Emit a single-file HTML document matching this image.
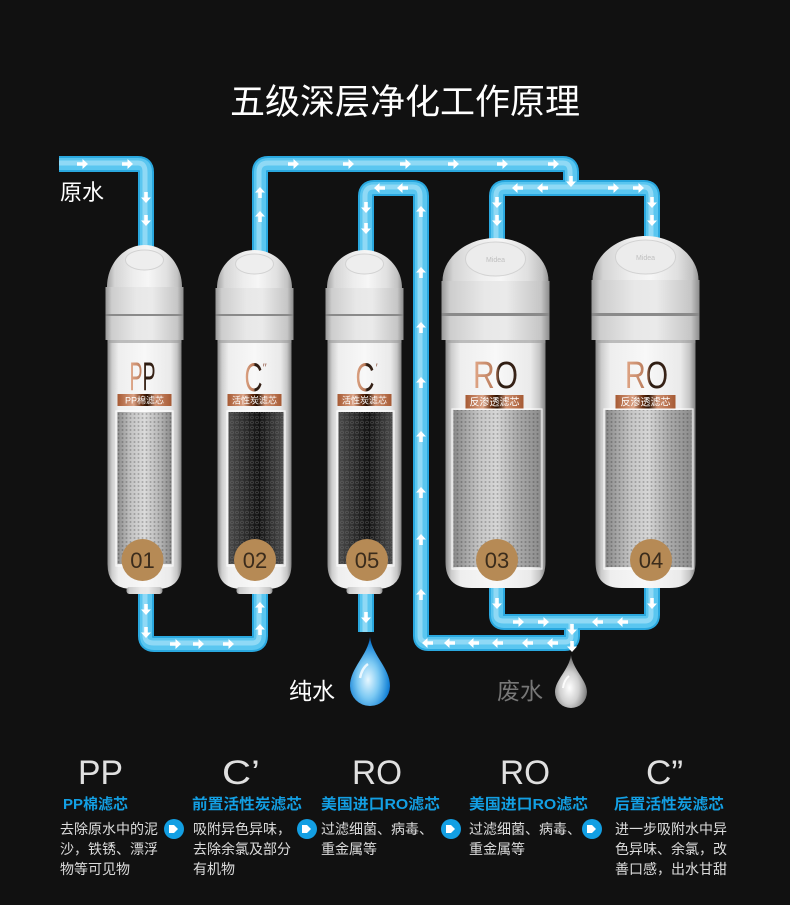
<!DOCTYPE html>
<html><head><meta charset="utf-8"><style>
html,body{margin:0;padding:0;background:#111;}
svg{display:block;}
text{font-family:"Liberation Sans","Noto Sans CJK SC",sans-serif;}
</style></head><body>
<svg width="790" height="905" viewBox="0 0 790 905" xmlns="http://www.w3.org/2000/svg">
<defs>
<linearGradient id="gCap" x1="0" x2="1" y1="0" y2="0">
<stop offset="0" stop-color="#a0a0a0"/><stop offset=".1" stop-color="#d4d4d4"/><stop offset=".35" stop-color="#ededed"/><stop offset=".55" stop-color="#f6f6f6"/><stop offset=".8" stop-color="#e0e0e0"/><stop offset=".94" stop-color="#c2c2c2"/><stop offset="1" stop-color="#959595"/>
</linearGradient>
<linearGradient id="gBand" x1="0" x2="1" y1="0" y2="0">
<stop offset="0" stop-color="#989898"/><stop offset=".08" stop-color="#cdcdcd"/><stop offset=".4" stop-color="#e8e8e8"/><stop offset=".6" stop-color="#eaeaea"/><stop offset=".92" stop-color="#c6c6c6"/><stop offset="1" stop-color="#8c8c8c"/>
</linearGradient>
<linearGradient id="gBody" x1="0" x2="1" y1="0" y2="0">
<stop offset="0" stop-color="#8a8a8a"/><stop offset=".06" stop-color="#cdcdcd"/><stop offset=".15" stop-color="#eeeeee"/><stop offset=".5" stop-color="#f8f8f8"/><stop offset=".85" stop-color="#eaeaea"/><stop offset=".94" stop-color="#c6c6c6"/><stop offset="1" stop-color="#828282"/>
</linearGradient>
<linearGradient id="gElemL" x1="0" x2="1" y1="0" y2="0">
<stop offset="0" stop-color="#8e8e8e"/><stop offset=".25" stop-color="#c4c4c4"/><stop offset=".5" stop-color="#dadada"/><stop offset=".8" stop-color="#b4b4b4"/><stop offset="1" stop-color="#8a8a8a"/>
</linearGradient>
<linearGradient id="gElemD" x1="0" x2="1" y1="0" y2="0">
<stop offset="0" stop-color="#4a4a4a"/><stop offset=".3" stop-color="#2c2c2c"/><stop offset=".55" stop-color="#111"/><stop offset=".8" stop-color="#333"/><stop offset="1" stop-color="#4a4a4a"/>
</linearGradient>
<linearGradient id="gElemM" x1="0" x2="1" y1="0" y2="0">
<stop offset="0" stop-color="#8a8a8a"/><stop offset=".3" stop-color="#c6c6c6"/><stop offset=".5" stop-color="#d6d6d6"/><stop offset=".72" stop-color="#adadad"/><stop offset="1" stop-color="#8c8c8c"/>
</linearGradient>
<linearGradient id="gCopper" x1="0" x2="1" y1="0" y2="0">
<stop offset="0" stop-color="#a65a34"/><stop offset=".3" stop-color="#dba285"/><stop offset=".45" stop-color="#6a3012"/><stop offset=".55" stop-color="#2a1000"/><stop offset=".7" stop-color="#cd8e6e"/><stop offset="1" stop-color="#a65a34"/>
</linearGradient>
<linearGradient id="gTxt" x1="0" x2="1" y1="0" y2="0">
<stop offset="0" stop-color="#e2a888"/><stop offset=".5" stop-color="#b87a5a"/><stop offset=".6" stop-color="#2a1a10"/><stop offset="1" stop-color="#3a2418"/>
</linearGradient>
<radialGradient id="gDrop" cx=".45" cy=".62" r=".6">
<stop offset="0" stop-color="#e6f7ff"/><stop offset=".45" stop-color="#7cc9f3"/><stop offset=".85" stop-color="#1a86d8"/><stop offset="1" stop-color="#0a5db8"/>
</radialGradient>
<radialGradient id="gDropG" cx=".45" cy=".62" r=".6">
<stop offset="0" stop-color="#ffffff"/><stop offset=".5" stop-color="#d0d0d0"/><stop offset=".85" stop-color="#8a8a8a"/><stop offset="1" stop-color="#555"/>
</radialGradient>
<pattern id="meshA" width="4" height="4" patternUnits="userSpaceOnUse"><circle cx="2" cy="2" r="1" fill="#000" opacity=".22"/></pattern>
<pattern id="meshB" width="5" height="5" patternUnits="userSpaceOnUse"><circle cx="2.5" cy="2.5" r="1.4" fill="none" stroke="#777" stroke-width=".6" opacity=".6"/></pattern>
<path id="ar" d="M-5,-1.8 H0.5 V-5 L6,0 L0.5,5 V1.8 H-5 Z" fill="#fff"/>
</defs>

<rect width="790" height="905" fill="#111"/>

<text x="230" y="114" font-size="35" fill="#fff" textLength="350" lengthAdjust="spacingAndGlyphs">五级深层净化工作原理</text>
<text x="60" y="200" font-size="22" fill="#fff">原水</text>

<!-- pipes -->
<g fill="none" stroke-linecap="butt">
<g stroke="#2aa8df" stroke-width="16">
<path d="M59,164 H138 Q146,164 146,172 V250"/>
<path d="M260,255 V172 Q260,164 268,164 H563 Q571,164 571,172 V188"/>
<path d="M497,242 V196 Q497,188 505,188 H644 Q652,188 652,196 V240"/>
<path d="M366,255 V196 Q366,188 374,188 H413 Q421,188 421,196 V636 Q421,643 428,643 H565 Q572,643 572,636 V618"/>
<path d="M497,585 V615 Q497,622 504,622 H645 Q652,622 652,615 V585"/>
<path d="M146,590 V636 Q146,644 154,644 H252 Q260,644 260,636 V590"/>
<path d="M366,590 V632"/>
</g>
<g stroke="#5ac6f0" stroke-width="12">
<path d="M59,164 H138 Q146,164 146,172 V250"/>
<path d="M260,255 V172 Q260,164 268,164 H563 Q571,164 571,172 V188"/>
<path d="M497,242 V196 Q497,188 505,188 H644 Q652,188 652,196 V240"/>
<path d="M366,255 V196 Q366,188 374,188 H413 Q421,188 421,196 V636 Q421,643 428,643 H565 Q572,643 572,636 V618"/>
<path d="M497,585 V615 Q497,622 504,622 H645 Q652,622 652,615 V585"/>
<path d="M146,590 V636 Q146,644 154,644 H252 Q260,644 260,636 V590"/>
<path d="M366,590 V632"/>
</g>
<g stroke="#c4ecfb" stroke-width="5" opacity=".5">
<path d="M59,163 H138 Q145,163 145,172 V250"/>
<path d="M259,255 V172 Q259,163 268,163 H563 Q570,163 570,172 V186"/>
<path d="M496,242 V196 Q496,187 505,187 H644 Q651,187 651,196 V240"/>
<path d="M365,255 V196 Q365,187 374,187 H413 Q420,187 420,196 V636 Q420,642 428,642 H565 Q571,642 571,636 V620"/>
<path d="M496,585 V615 Q496,621 504,621 H645 Q651,621 651,615 V585"/>
<path d="M145,590 V636 Q145,643 154,643 H252 Q259,643 259,636 V590"/>
<path d="M365,590 V632"/>
</g>
</g>

<!-- arrows -->
<g>
<use href="#ar" transform="translate(82,164)"/><use href="#ar" transform="translate(127,164)"/>
<use href="#ar" transform="translate(146,197) rotate(90)"/><use href="#ar" transform="translate(146,220) rotate(90)"/>
<use href="#ar" transform="translate(260,193) rotate(-90)"/><use href="#ar" transform="translate(260,217) rotate(-90)"/>
<use href="#ar" transform="translate(293,164)"/><use href="#ar" transform="translate(348,164)"/><use href="#ar" transform="translate(405,164)"/><use href="#ar" transform="translate(453,164)"/><use href="#ar" transform="translate(502,164)"/><use href="#ar" transform="translate(553,164)"/>
<use href="#ar" transform="translate(571,181) rotate(90)"/>
<use href="#ar" transform="translate(518,188) rotate(180)"/><use href="#ar" transform="translate(543,188) rotate(180)"/>
<use href="#ar" transform="translate(613,188)"/><use href="#ar" transform="translate(638,188)"/>
<use href="#ar" transform="translate(497,202) rotate(90)"/><use href="#ar" transform="translate(497,220) rotate(90)"/>
<use href="#ar" transform="translate(652,202) rotate(90)"/><use href="#ar" transform="translate(652,220) rotate(90)"/>
<use href="#ar" transform="translate(380,188) rotate(180)"/><use href="#ar" transform="translate(403,188) rotate(180)"/>
<use href="#ar" transform="translate(366,207) rotate(90)"/><use href="#ar" transform="translate(366,228) rotate(90)"/>
<use href="#ar" transform="translate(421,212) rotate(-90)"/><use href="#ar" transform="translate(421,273) rotate(-90)"/><use href="#ar" transform="translate(421,328) rotate(-90)"/><use href="#ar" transform="translate(421,383) rotate(-90)"/><use href="#ar" transform="translate(421,437) rotate(-90)"/><use href="#ar" transform="translate(421,493) rotate(-90)"/><use href="#ar" transform="translate(421,540) rotate(-90)"/><use href="#ar" transform="translate(421,595) rotate(-90)"/>
<use href="#ar" transform="translate(428,643) rotate(180)"/><use href="#ar" transform="translate(450,643) rotate(180)"/><use href="#ar" transform="translate(474,643) rotate(180)"/><use href="#ar" transform="translate(498,643) rotate(180)"/><use href="#ar" transform="translate(528,643) rotate(180)"/><use href="#ar" transform="translate(553,643) rotate(180)"/>
<use href="#ar" transform="translate(572,629) rotate(90)"/><use href="#ar" transform="translate(572,646) rotate(90)"/>
<use href="#ar" transform="translate(146,609) rotate(90)"/><use href="#ar" transform="translate(146,632) rotate(90)"/>
<use href="#ar" transform="translate(175,644)"/><use href="#ar" transform="translate(198,644)"/><use href="#ar" transform="translate(228,644)"/>
<use href="#ar" transform="translate(260,630) rotate(-90)"/><use href="#ar" transform="translate(260,608) rotate(-90)"/>
<use href="#ar" transform="translate(366,617) rotate(90)"/>
<use href="#ar" transform="translate(497,603) rotate(90)"/><use href="#ar" transform="translate(652,603) rotate(90)"/>
<use href="#ar" transform="translate(518,622)"/><use href="#ar" transform="translate(543,622)"/>
<use href="#ar" transform="translate(598,622) rotate(180)"/><use href="#ar" transform="translate(623,622) rotate(180)"/>
</g>

<!-- drops -->
<path d="M370,637 C372,655 390,668 390,686 A20,20 0 0 1 350,686 C350,668 368,655 370,637 Z" fill="url(#gDrop)"/>
<path d="M360,678 Q362,668 368,664" stroke="#fff" stroke-width="2.5" fill="none" opacity=".8"/>
<path d="M571,655 C573,670 587,680 587,692 A16,16 0 0 1 555,692 C555,680 569,670 571,655 Z" fill="url(#gDropG)"/>
<path d="M563,688 Q564,680 569,676" stroke="#fff" stroke-width="2" fill="none" opacity=".9"/>
<text x="289" y="699" font-size="23" fill="#fff">纯水</text>
<text x="497" y="699" font-size="23" fill="#777">废水</text>

<!-- small filter 01 -->
<g transform="translate(144.5,0)">
<path d="M-37.5,287 C-37.5,264 -20.6,245 0,245 C20.6,245 37.5,264 37.5,287 Z" fill="url(#gCap)"/>
<ellipse cx="0" cy="260" rx="19" ry="10" fill="#eeeeee" stroke="#d2d2d2" stroke-width="1"/>
<rect x="-39" y="287" width="78" height="27" fill="url(#gBand)"/>
<rect x="-39" y="314" width="78" height="2" fill="#8a8a8a"/>
<rect x="-39" y="316" width="78" height="24" fill="url(#gBand)"/>
<path d="M-37,340 V564 Q-37,589 -12,589 H12 Q37,589 37,564 V340 Z" fill="url(#gBody)"/>
<rect x="-37" y="340" width="74" height="3" fill="#999" opacity=".6"/>
<rect x="-18" y="587" width="36" height="7" rx="3" fill="url(#gBand)"/>
<text x="-2" y="390" font-size="40" text-anchor="middle" fill="url(#gTxt)" textLength="26" lengthAdjust="spacingAndGlyphs">PP</text>
<rect x="-27" y="394" width="54" height="12" fill="url(#gCopper)"/>
<text x="0" y="403.5" font-size="9" text-anchor="middle" fill="#fff">PP棉滤芯</text>
<rect x="-27" y="412" width="54" height="152" fill="url(#gElemL)"/>
<rect x="-27" y="412" width="54" height="152" fill="url(#meshA)"/>
<rect x="-28.5" y="411" width="57" height="155" fill="none" stroke="#fff" stroke-width="1.2" opacity=".8"/>
<circle cx="-2" cy="560" r="21" fill="#b68a55"/>
<text x="-2" y="568" font-size="22" text-anchor="middle" fill="#3b2c1c">01</text>
</g>

<!-- small filter 02 -->
<g transform="translate(254.5,0)">
<path d="M-37.5,288 C-37.5,267 -20.6,250 0,250 C20.6,250 37.5,267 37.5,288 Z" fill="url(#gCap)"/>
<ellipse cx="0" cy="264" rx="19" ry="10" fill="#eeeeee" stroke="#d2d2d2" stroke-width="1"/>
<rect x="-39" y="288" width="78" height="26" fill="url(#gBand)"/>
<rect x="-39" y="314" width="78" height="2" fill="#8a8a8a"/>
<rect x="-39" y="316" width="78" height="24" fill="url(#gBand)"/>
<path d="M-37,340 V564 Q-37,589 -12,589 H12 Q37,589 37,564 V340 Z" fill="url(#gBody)"/>
<rect x="-37" y="340" width="74" height="3" fill="#999" opacity=".6"/>
<rect x="-18" y="587" width="36" height="7" rx="3" fill="url(#gBand)"/>
<text x="-10" y="391" font-size="40" fill="url(#gTxt)" textLength="18" lengthAdjust="spacingAndGlyphs">C</text>
<text x="8" y="372" font-size="12" fill="#a07060">″</text>
<rect x="-27" y="394" width="54" height="12" fill="url(#gCopper)"/>
<text x="0" y="403.5" font-size="9" text-anchor="middle" fill="#fff">活性炭滤芯</text>
<rect x="-26" y="412" width="55" height="152" fill="url(#gElemD)"/>
<rect x="-26" y="412" width="55" height="152" fill="url(#meshB)"/>
<rect x="-27.5" y="411" width="58" height="155" fill="none" stroke="#fff" stroke-width="1.2" opacity=".8"/>
<circle cx="0.5" cy="560" r="21" fill="#b68a55"/>
<text x="0.5" y="568" font-size="22" text-anchor="middle" fill="#3b2c1c">02</text>
</g>

<!-- small filter 05 -->
<g transform="translate(364.5,0)">
<path d="M-37.5,288 C-37.5,267 -20.6,250 0,250 C20.6,250 37.5,267 37.5,288 Z" fill="url(#gCap)"/>
<ellipse cx="0" cy="264" rx="19" ry="10" fill="#eeeeee" stroke="#d2d2d2" stroke-width="1"/>
<rect x="-39" y="288" width="78" height="26" fill="url(#gBand)"/>
<rect x="-39" y="314" width="78" height="2" fill="#8a8a8a"/>
<rect x="-39" y="316" width="78" height="24" fill="url(#gBand)"/>
<path d="M-37,340 V564 Q-37,589 -12,589 H12 Q37,589 37,564 V340 Z" fill="url(#gBody)"/>
<rect x="-37" y="340" width="74" height="3" fill="#999" opacity=".6"/>
<rect x="-18" y="587" width="36" height="7" rx="3" fill="url(#gBand)"/>
<text x="-9" y="391" font-size="40" fill="url(#gTxt)" textLength="19" lengthAdjust="spacingAndGlyphs">C</text>
<text x="11" y="372" font-size="12" fill="#a07060">′</text>
<rect x="-27" y="394" width="54" height="12" fill="url(#gCopper)"/>
<text x="0" y="403.5" font-size="9" text-anchor="middle" fill="#fff">活性炭滤芯</text>
<rect x="-26" y="412" width="54" height="152" fill="url(#gElemD)"/>
<rect x="-26" y="412" width="54" height="152" fill="url(#meshB)"/>
<rect x="-27.5" y="411" width="57" height="155" fill="none" stroke="#fff" stroke-width="1.2" opacity=".8"/>
<circle cx="2.5" cy="560" r="21" fill="#b68a55"/>
<text x="2.5" y="568" font-size="22" text-anchor="middle" fill="#3b2c1c">05</text>
</g>

<!-- big filter 03 -->
<g transform="translate(495.5,0)">
<path d="M-53,281 C-53,258 -29,238 0,238 C29,238 53,258 53,281 Z" fill="url(#gCap)"/>
<ellipse cx="0" cy="259" rx="30" ry="17" fill="#ececec" stroke="#d2d2d2" stroke-width="1"/>
<text x="0" y="262" font-size="7" text-anchor="middle" fill="#c0c0c0">Midea</text>
<rect x="-54" y="281" width="108" height="32" fill="url(#gBand)"/>
<rect x="-54" y="313" width="108" height="3" fill="#8a8a8a"/>
<rect x="-54" y="316" width="108" height="24" fill="url(#gBand)"/>
<path d="M-50,340 V562 Q-50,588 -24,588 H24 Q50,588 50,562 V340 Z" fill="url(#gBody)"/>
<rect x="-50" y="340" width="100" height="3" fill="#999" opacity=".6"/>
<text x="0" y="388" font-size="38" text-anchor="middle" fill="url(#gTxt)" textLength="45" lengthAdjust="spacingAndGlyphs">RO</text>
<rect x="-30" y="395" width="58" height="14" fill="url(#gCopper)"/>
<text x="-1" y="405.5" font-size="10" text-anchor="middle" fill="#fff">反渗透滤芯</text>
<rect x="-42" y="410" width="87" height="157" fill="url(#gElemM)"/>
<rect x="-42" y="410" width="87" height="157" fill="url(#meshA)"/>
<rect x="-43.5" y="409" width="90" height="160" fill="none" stroke="#fff" stroke-width="1.2" opacity=".8"/>
<circle cx="1.5" cy="560" r="21" fill="#b68a55"/>
<text x="1.5" y="568" font-size="22" text-anchor="middle" fill="#3b2c1c">03</text>
</g>

<!-- big filter 04 -->
<g transform="translate(645.5,0)">
<path d="M-53,280 C-53,257 -29,236 0,236 C29,236 53,257 53,280 Z" fill="url(#gCap)"/>
<ellipse cx="0" cy="257" rx="30" ry="17" fill="#ececec" stroke="#d2d2d2" stroke-width="1"/>
<text x="0" y="260" font-size="7" text-anchor="middle" fill="#c0c0c0">Midea</text>
<rect x="-54" y="280" width="108" height="33" fill="url(#gBand)"/>
<rect x="-54" y="313" width="108" height="3" fill="#8a8a8a"/>
<rect x="-54" y="316" width="108" height="24" fill="url(#gBand)"/>
<path d="M-50,340 V562 Q-50,588 -24,588 H24 Q50,588 50,562 V340 Z" fill="url(#gBody)"/>
<rect x="-50" y="340" width="100" height="3" fill="#999" opacity=".6"/>
<text x="1" y="388" font-size="38" text-anchor="middle" fill="url(#gTxt)" textLength="43" lengthAdjust="spacingAndGlyphs">RO</text>
<rect x="-30" y="395" width="60" height="14" fill="url(#gCopper)"/>
<text x="0" y="405.5" font-size="10" text-anchor="middle" fill="#fff">反渗透滤芯</text>
<rect x="-40" y="410" width="86" height="157" fill="url(#gElemM)"/>
<rect x="-40" y="410" width="86" height="157" fill="url(#meshA)"/>
<rect x="-41.5" y="409" width="89" height="160" fill="none" stroke="#fff" stroke-width="1.2" opacity=".8"/>
<circle cx="5.5" cy="560" r="21" fill="#b68a55"/>
<text x="5.5" y="568" font-size="22" text-anchor="middle" fill="#3b2c1c">04</text>
</g>

<!-- bottom descriptions -->
<g fill="#e0e0e0" font-size="34">
<text x="78" y="784" textLength="45" lengthAdjust="spacingAndGlyphs">PP</text>
<text x="222" y="784" textLength="38" lengthAdjust="spacingAndGlyphs">C’</text>
<text x="352" y="784" textLength="50" lengthAdjust="spacingAndGlyphs">RO</text>
<text x="500" y="784" textLength="50" lengthAdjust="spacingAndGlyphs">RO</text>
<text x="646" y="784" textLength="37" lengthAdjust="spacingAndGlyphs">C”</text>
</g>
<g fill="#139fe3" font-size="15" font-weight="bold">
<text x="63" y="809">PP棉滤芯</text>
<text x="192" y="809" textLength="110" lengthAdjust="spacingAndGlyphs">前置活性炭滤芯</text>
<text x="321" y="809" textLength="119" lengthAdjust="spacingAndGlyphs">美国进口RO滤芯</text>
<text x="469" y="809" textLength="119" lengthAdjust="spacingAndGlyphs">美国进口RO滤芯</text>
<text x="614" y="809" textLength="110" lengthAdjust="spacingAndGlyphs">后置活性炭滤芯</text>
</g>
<g fill="#dcdcdc" font-size="14">
<text x="60" y="834">去除原水中的泥</text>
<text x="60" y="854">沙，铁锈、漂浮</text>
<text x="60" y="874">物等可见物</text>
<text x="193" y="834">吸附异色异味，</text>
<text x="193" y="854">去除余氯及部分</text>
<text x="193" y="874">有机物</text>
<text x="321" y="834">过滤细菌、病毒、</text>
<text x="321" y="854">重金属等</text>
<text x="469" y="834">过滤细菌、病毒、</text>
<text x="469" y="854">重金属等</text>
<text x="615" y="834">进一步吸附水中异</text>
<text x="615" y="854">色异味、余氯，改</text>
<text x="615" y="874">善口感，出水甘甜</text>
</g>
<g>
<circle cx="174" cy="829" r="10" fill="#139fe3"/><path d="M169,825 H174 L178,829 L174,833 H169 Z" fill="#fff"/>
<circle cx="307" cy="829" r="10" fill="#139fe3"/><path d="M302,825 H307 L311,829 L307,833 H302 Z" fill="#fff"/>
<circle cx="451" cy="829" r="10" fill="#139fe3"/><path d="M446,825 H451 L455,829 L451,833 H446 Z" fill="#fff"/>
<circle cx="592" cy="829" r="10" fill="#139fe3"/><path d="M587,825 H592 L596,829 L592,833 H587 Z" fill="#fff"/>
</g>
</svg>
</body></html>
